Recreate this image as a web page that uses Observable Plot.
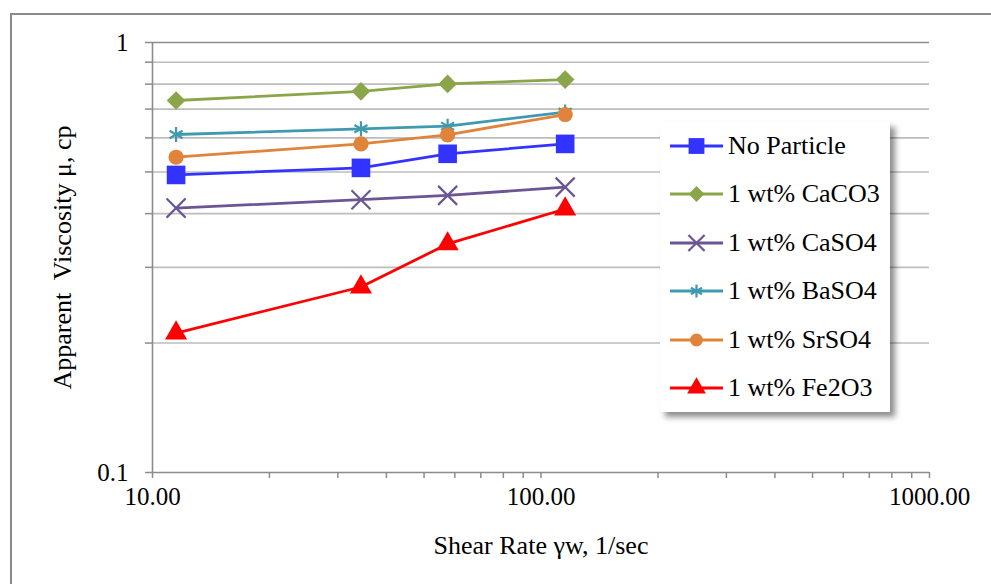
<!DOCTYPE html>
<html><head><meta charset="utf-8">
<script src="https://cdn.jsdelivr.net/npm/d3@7"></script>
<script src="https://cdn.jsdelivr.net/npm/@observablehq/plot@0.6"></script>
<style>
body{margin:0;background:#fff;overflow:hidden}
#wrap{position:relative;width:991px;height:584px;overflow:hidden;background:#fff}
#border{position:absolute;left:10px;top:13px;width:1000px;height:600px;border:2px solid #8a8a8a}
#chart{position:absolute;left:0;top:0}
#legend{position:absolute;left:660px;top:122px;width:230px;height:290px;background:#fff;box-shadow:5px 5px 6px rgba(0,0,0,0.45);font-family:"Liberation Serif",serif;font-size:26px}
.row{position:absolute;left:0;height:30px;display:flex;align-items:center;white-space:pre}
</style></head>
<body><div id="wrap"><div id="border"></div><div id="chart"></div><div id="legend"></div></div>
<script>
// ---- data ----
const shearRate  = [11.5, 34.4, 57.5, 115.4];
const noParticle = [0.492, 0.511, 0.551, 0.581];
const caco3      = [0.733, 0.770, 0.801, 0.820];
const caso4      = [0.412, 0.431, 0.441, 0.461];
const baso4      = [0.611, 0.630, 0.639, 0.689];
const srso4      = [0.541, 0.581, 0.610, 0.680];
const fe2o3      = [0.211, 0.270, 0.340, 0.410];
const seriesNames = ["No Particle", "1 wt% CaCO3", "1 wt% CaSO4", "1 wt% BaSO4", "1 wt% SrSO4", "1 wt% Fe2O3"];
const xTicks = [10,20,30,40,50,60,70,80,90,100,200,300,400,500,600,700,800,900,1000];
const yTicks = [0.1,0.2,0.3,0.4,0.5,0.6,0.7,0.8,0.9,1];
const xLabels = {10:"10.00",100:"100.00",1000:"1000.00"};
const yLabels = {0.1:"0.1",1:"1"};

const styles = [
  {color:"#3333ff", symbol:"square",   r:10.5, filled:true},
  {color:"#8aa54a", symbol:"diamond2", r:8.4,  filled:true},
  {color:"#6b5595", symbol:"times",    r:8.7,  filled:false},
  {color:"#3f9ab0", symbol:"asterisk", r:7.1,  filled:false},
  {color:"#e0843b", symbol:"circle",   r:7.6,  filled:true},
  {color:"#ff0000", symbol:"triangle", r:8.2,  filled:true}
];
const values = [noParticle, caco3, caso4, baso4, srso4, fe2o3];
const series = seriesNames.map((name,i)=>({name, style:styles[i], data: shearRate.map((x,j)=>({x, y: values[i][j]}))}));

const marks = [
  Plot.ruleY(yTicks.filter(d=>d!==1 && d!==0.1), {stroke:"#bdbdbd", strokeWidth:1.6}),
  Plot.ruleY([1], {stroke:"#8c8c8c", strokeWidth:1.6}),
  Plot.axisY({ticks:yTicks, tickFormat:d=>yLabels[d]||"", tickSize:7, tickPadding:17, stroke:"#8c8c8c", strokeWidth:1.5, label:null, fill:"#000", fontSize:25}),
  Plot.axisX({ticks:xTicks, tickFormat:d=>xLabels[d]||"", tickSize:6, tickPadding:9, stroke:"#8c8c8c", strokeWidth:1.5, label:null, fill:"#000", fontSize:25}),
  Plot.ruleX([10], {stroke:"#8c8c8c", strokeWidth:1.6}),
  Plot.ruleY([0.1], {stroke:"#8c8c8c", strokeWidth:1.6}),
  Plot.text(["Apparent  Viscosity μ, cp"], {frameAnchor:"left", textAnchor:"middle", lineAnchor:"middle", rotate:-90, dx:-90, fontSize:26}),
  Plot.text(["Shear Rate γw, 1/sec"], {frameAnchor:"bottom", textAnchor:"middle", lineAnchor:"middle", dy:73, fontSize:26})
];
for (const s of series) {
  marks.push(Plot.line(s.data, {x:"x", y:"y", stroke:s.style.color, strokeWidth:2.8}));
}
for (const s of series) {
  const st = s.style;
  marks.push(Plot.dot(s.data, {x:"x", y:"y", symbol:st.symbol, r:st.r,
    fill: st.filled ? st.color : "none", stroke: st.filled ? "none" : st.color, strokeWidth: st.filled ? 0 : 2.2}));
}

const chart = Plot.plot({
  width:991, height:584,
  marginLeft:152, marginRight:62, marginTop:42, marginBottom:112,
  x:{type:"log", domain:[10,1000]},
  y:{type:"log", domain:[0.1,1]},
  style:{fontFamily:"'Liberation Serif', serif", fontSize:"26px", background:"transparent", color:"#000", overflow:"visible"},
  marks
});
document.getElementById("chart").appendChild(chart);

// legend
const symMap = {square:d3.symbolSquare, diamond2:d3.symbolDiamond2, times:d3.symbolTimes, asterisk:d3.symbolAsterisk, circle:d3.symbolCircle, triangle:d3.symbolTriangle};
const legend = d3.select("#legend");
series.forEach((s,i)=>{
  const st = s.style;
  const row = legend.append("div").attr("class","row").style("top",(9 + i*48.4)+"px");
  const svg = row.append("svg").attr("width",68).attr("height",30);
  svg.append("line").attr("x1",10).attr("x2",63).attr("y1",15).attr("y2",15).attr("stroke",st.color).attr("stroke-width",2.8);
  const rr = st.r*0.85;
  svg.append("path").attr("transform","translate(36.5,15)")
    .attr("d", d3.symbol(symMap[st.symbol], Math.PI*rr*rr)())
    .attr("fill", st.filled?st.color:"none").attr("stroke", st.filled?"none":st.color).attr("stroke-width",2.2);
  row.append("span").text(s.name);
});
</script></body></html>
